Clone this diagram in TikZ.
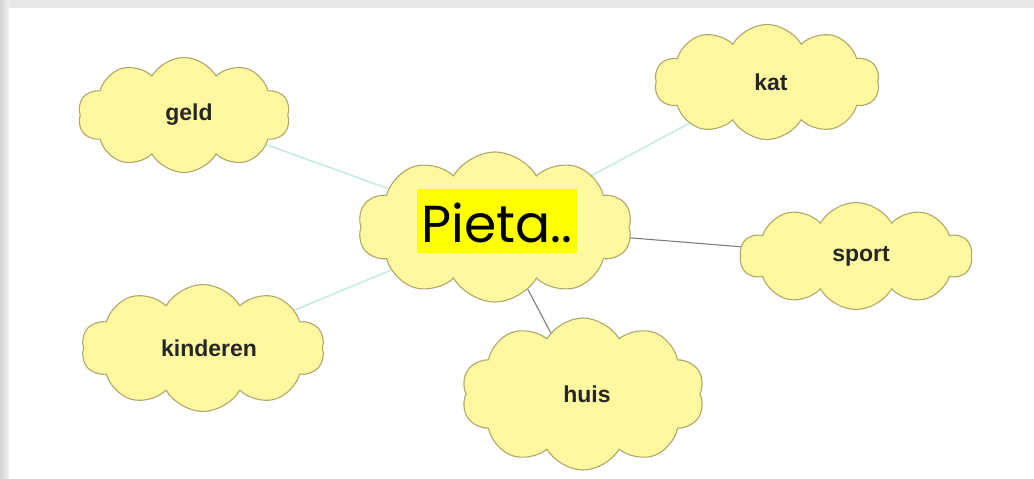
\documentclass[tikz,border=0pt]{standalone}
\usepackage{fontspec}
\setmainfont{Liberation Sans}
\newfontfamily\pietafont{Poppins}
\usetikzlibrary{shapes.symbols,backgrounds}
\definecolor{cloudfill}{RGB}{255,248,160}
\definecolor{cloudline}{RGB}{175,168,105}
\definecolor{mintline}{RGB}{200,236,222}
\definecolor{greyline}{RGB}{125,125,135}
\definecolor{framegrey}{RGB}{232,232,232}
\definecolor{hilite}{RGB}{255,255,0}
\tikzset{
  cloudbox/.style={cloud, cloud puffs=10, cloud puff arc=120, cloud ignores aspect,
    draw=cloudline, line width=1.1pt, fill=cloudfill, inner sep=0pt,
    font=\fontsize{23}{27}\selectfont\bfseries, text=black!85},
  mintedge/.style={draw=mintline, line width=1.6pt},
  greyedge/.style={draw=greyline, line width=1.1pt},
}
\begin{document}
\begin{tikzpicture}[x=1pt,y=-1pt]
\useasboundingbox (0,0) rectangle (1034,479);

\node[cloudbox, minimum width=212, minimum height=115] (geld) at (184,115) {\hspace{10pt}geld};
\node[cloudbox, minimum width=225, minimum height=115] (kat) at (767,82) {\hspace{8pt}kat};
\node[cloudbox, minimum width=274, minimum height=150] (pieta) at (495,227) {};
\node[cloudbox, minimum width=232, minimum height=107] (sport) at (856,256) {\hspace{10pt}sport};
\node[cloudbox, minimum width=243, minimum height=127] (kinderen) at (203,348) {\hspace{12pt}kinderen};
\node[cloudbox, minimum width=243, minimum height=152] (huis) at (583,394) {\hspace{8pt}huis};
\node[fill=hilite, inner xsep=4pt, inner ysep=0pt, text height=53, text depth=11,
  font=\pietafont\fontsize{52}{60}\selectfont] (pietalbl) at (497,221) {Pieta..};

\begin{scope}[on background layer]
\fill[white] (0,0) rectangle (1034,479);
\fill[framegrey] (0,0) rectangle (1034,8);
\fill[left color=framegrey!80!gray, right color=framegrey!60] (0,0) rectangle (9,479);
\draw[mintedge] (geld.center) -- (pieta.center);
\draw[mintedge] (kat.center) -- (pieta.center);
\draw[mintedge] (kinderen.center) -- (pieta.center);
\draw[greyedge] (sport.center) -- (pieta.center);
\draw[greyedge] (huis.center) -- (pieta.center);
\end{scope}
\end{tikzpicture}
\end{document}
